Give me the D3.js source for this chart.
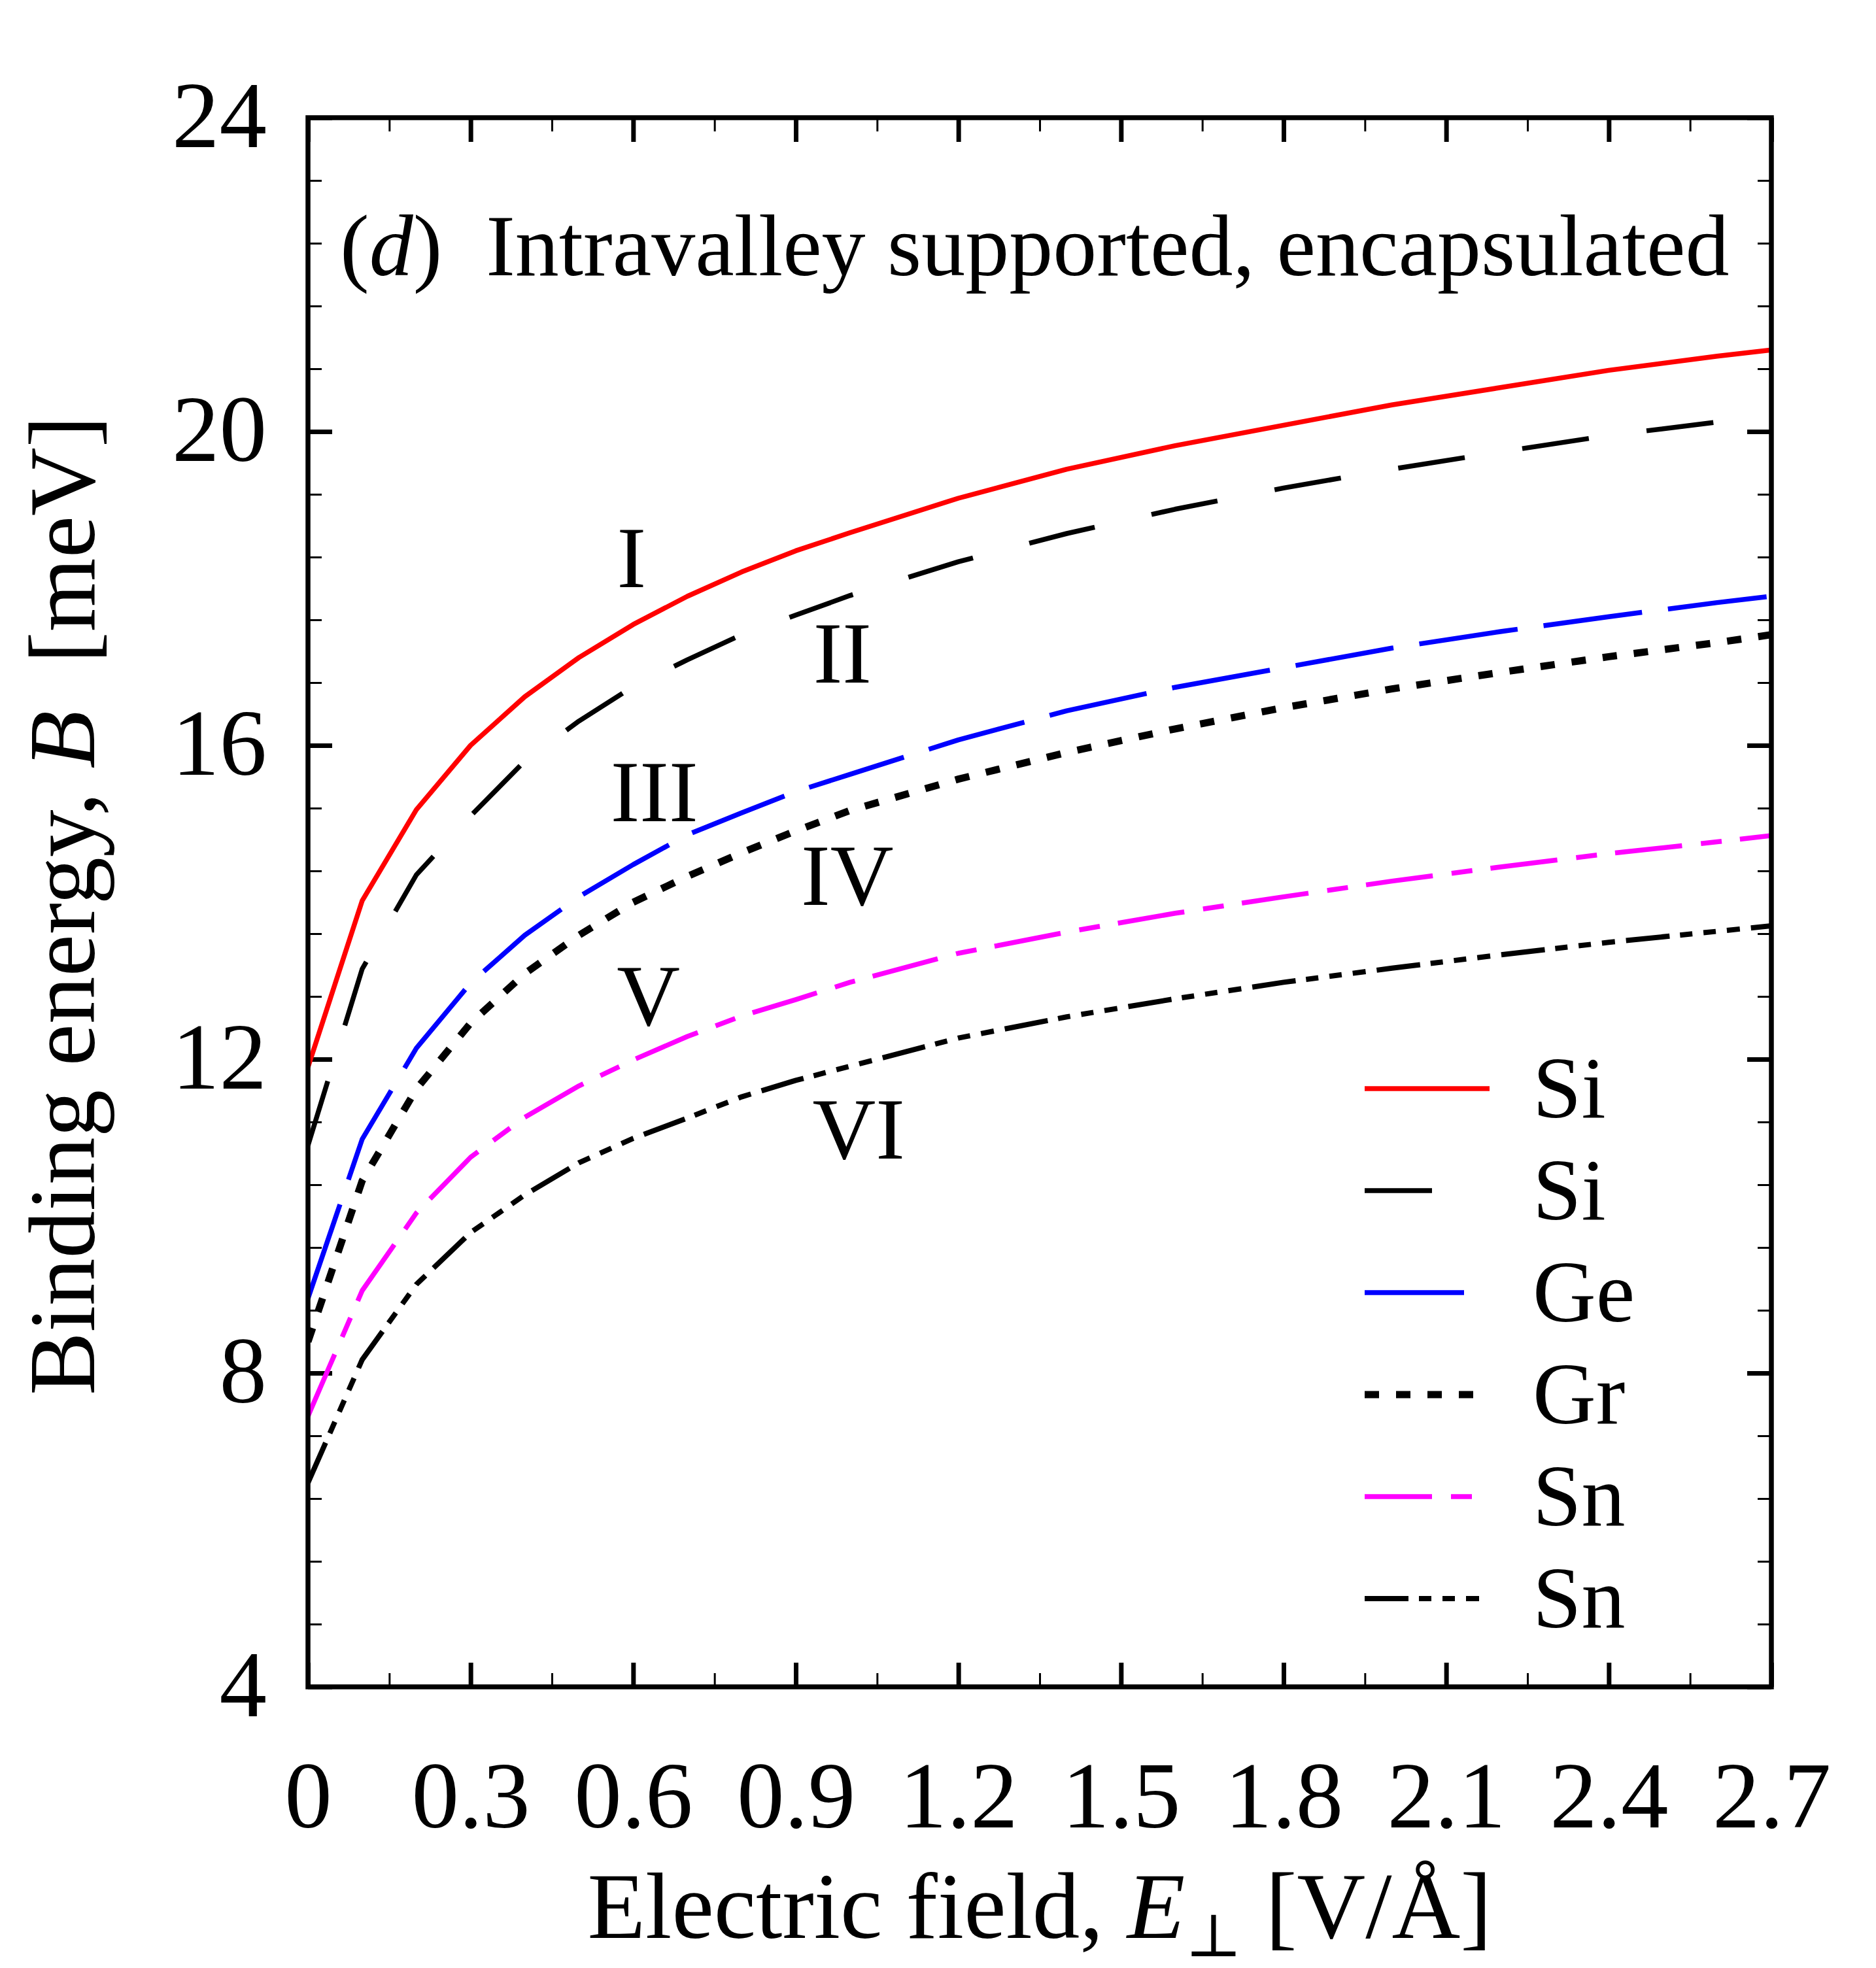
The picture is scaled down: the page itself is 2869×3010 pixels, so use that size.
<!DOCTYPE html>
<html>
<head>
<meta charset="utf-8">
<script src="https://cdn.jsdelivr.net/npm/d3@7"></script>
<style>
  html, body { margin: 0; padding: 0; background: #ffffff; }
  svg { display: block; }
  text { font-family: "Liberation Serif", "Times New Roman", "DejaVu Serif", serif; fill: #000; }
</style>
</head>
<body>
<script>
// ---------------- data ----------------
const fieldE = [0, 0.1, 0.2, 0.3, 0.4, 0.5, 0.6, 0.7, 0.8, 0.9, 1.0, 1.2, 1.4, 1.6, 1.8, 2.0, 2.2, 2.4, 2.6, 2.7];
const siSolid   = [11.9, 14.02, 15.18, 16.0, 16.62, 17.12, 17.54, 17.9, 18.21, 18.48, 18.71, 19.15, 19.52, 19.82, 20.08, 20.34, 20.56, 20.78, 20.96, 21.04];
const siDashed  = [10.9, 13.15, 14.35, 15.1, 15.8, 16.31, 16.75, 17.09, 17.41, 17.66, 17.91, 18.34, 18.70, 19.01, 19.28, 19.52, 19.74, 19.95, 20.12, 20.2];
const geDashed  = [8.95, 10.98, 12.14, 12.97, 13.58, 14.07, 14.48, 14.86, 15.14, 15.41, 15.63, 16.07, 16.44, 16.74, 16.99, 17.24, 17.45, 17.64, 17.82, 17.90];
const grDotted  = [8.4, 10.45, 11.62, 12.46, 13.09, 13.58, 14.0, 14.33, 14.63, 14.91, 15.17, 15.57, 15.91, 16.21, 16.48, 16.72, 16.93, 17.13, 17.31, 17.41];
const snDashDot = [7.45, 9.05, 10.04, 10.75, 11.26, 11.66, 11.99, 12.29, 12.55, 12.76, 12.98, 13.35, 13.62, 13.86, 14.07, 14.27, 14.45, 14.62, 14.77, 14.85];
const snDashDots= [6.6, 8.17, 9.13, 9.79, 10.27, 10.68, 10.99, 11.25, 11.52, 11.73, 11.91, 12.27, 12.54, 12.77, 12.98, 13.16, 13.33, 13.49, 13.63, 13.70];

const seriesNames  = ["Si", "Si", "Ge", "Gr", "Sn", "Sn"];
const seriesValues = [siSolid, siDashed, geDashed, grDotted, snDashDot, snDashDots];

const xMajorTicks = [0, 0.3, 0.6, 0.9, 1.2, 1.5, 1.8, 2.1, 2.4, 2.7];
const xTickLabels = ["0", "0.3", "0.6", "0.9", "1.2", "1.5", "1.8", "2.1", "2.4", "2.7"];
const xMinorTicks = [0.15, 0.45, 0.75, 1.05, 1.35, 1.65, 1.95, 2.25, 2.55];
const yMajorTicks = [4, 8, 12, 16, 20, 24];
const yTickLabels = ["4", "8", "12", "16", "20", "24"];
const yMinorTicks = [4.8, 5.6, 6.4, 7.2, 8.8, 9.6, 10.4, 11.2, 12.8, 13.6, 14.4, 15.2, 16.8, 17.6, 18.4, 19.2, 20.8, 21.6, 22.4, 23.2];

const curveLabels = ["I", "II", "III", "IV", "V", "VI"];
const curveLabelE = [0.597, 0.986, 0.639, 0.995, 0.628, 1.016];
const curveLabelB = [18.02, 16.8, 15.03, 13.97, 12.43, 10.73];

// ---------------- styles ----------------
const seriesColors = ["#ff0000", "#000000", "#0000ff", "#000000", "#ff00ff", "#000000"];
const seriesDash   = [null, "103,89", "152,40", "22,26", "103,29,32,28", "67,16,19,17,19,17,20,17"];
const seriesWidth  = [7.5, 7.5, 7.5, 11, 7.5, 8];

// ---------------- layout ----------------
const W = 2869, H = 3010;
const L = 471, R = 2709, T = 180, B = 2580;
const FONT_TICK = 145, FONT_AXIS = 145, FONT_TEXT = 134, FONT_TITLE = 134;

const svg = d3.select("body").append("svg").attr("width", W).attr("height", H);
svg.append("rect").attr("width", W).attr("height", H).attr("fill", "#fff");

const x = d3.scaleLinear().domain([0, 2.7]).range([L, R]);
const y = d3.scaleLinear().domain([4, 24]).range([B, T]);

// clip for curves
svg.append("clipPath").attr("id", "plotclip").append("rect")
  .attr("x", L).attr("y", T).attr("width", R - L).attr("height", B - T);

// ---------------- axes (ticks inward) ----------------
function styleAxis(g, w) {
  g.select(".domain").remove();
  g.selectAll(".tick line").attr("stroke", "#000").attr("stroke-width", w);
}
// bottom major with labels
const gxb = svg.append("g").attr("transform", `translate(0,${B})`)
  .call(d3.axisBottom(x).tickValues(xMajorTicks).tickSize(-37)
        .tickFormat((d, i) => xTickLabels[i]));
styleAxis(gxb, 7);
gxb.selectAll(".tick text").attr("y", 215).attr("dy", null)
  .attr("font-size", FONT_TICK).attr("font-family", "Liberation Serif, serif").attr("fill", "#000");
// bottom minor
styleAxis(svg.append("g").attr("transform", `translate(0,${B})`)
  .call(d3.axisBottom(x).tickValues(xMinorTicks).tickSize(-21).tickFormat("")), 3);
// top
styleAxis(svg.append("g").attr("transform", `translate(0,${T})`)
  .call(d3.axisTop(x).tickValues(xMajorTicks).tickSize(-37).tickFormat("")), 7);
styleAxis(svg.append("g").attr("transform", `translate(0,${T})`)
  .call(d3.axisTop(x).tickValues(xMinorTicks).tickSize(-21).tickFormat("")), 3);
// left major with labels
const gyl = svg.append("g").attr("transform", `translate(${L},0)`)
  .call(d3.axisLeft(y).tickValues(yMajorTicks).tickSize(-37)
        .tickFormat((d, i) => yTickLabels[i]));
styleAxis(gyl, 7);
gyl.selectAll(".tick text").attr("x", -63).attr("y", 44).attr("dy", null)
  .attr("font-size", FONT_TICK).attr("font-family", "Liberation Serif, serif").attr("fill", "#000");
styleAxis(svg.append("g").attr("transform", `translate(${L},0)`)
  .call(d3.axisLeft(y).tickValues(yMinorTicks).tickSize(-21).tickFormat("")), 3);
// right
styleAxis(svg.append("g").attr("transform", `translate(${R},0)`)
  .call(d3.axisRight(y).tickValues(yMajorTicks).tickSize(-37).tickFormat("")), 7);
styleAxis(svg.append("g").attr("transform", `translate(${R},0)`)
  .call(d3.axisRight(y).tickValues(yMinorTicks).tickSize(-21).tickFormat("")), 3);

// ---------------- curves ----------------
const line = d3.line().x(d => x(d[0])).y(d => y(d[1]));
const gc = svg.append("g").attr("clip-path", "url(#plotclip)");
seriesValues.forEach((vals, i) => {
  const pts = fieldE.map((e, k) => [e, vals[k]]);
  gc.append("path").datum(pts)
    .attr("d", line)
    .attr("fill", "none")
    .attr("stroke", seriesColors[i])
    .attr("stroke-width", seriesWidth[i])
    .attr("stroke-linejoin", "round")
    .attr("stroke-dasharray", seriesDash[i]);
});

// frame
svg.append("rect").attr("x", L).attr("y", T).attr("width", R - L).attr("height", B - T)
  .attr("fill", "none").attr("stroke", "#000").attr("stroke-width", 7.5);

// ---------------- curve labels ----------------
curveLabels.forEach((t, i) => {
  svg.append("text").attr("x", x(curveLabelE[i])).attr("y", y(curveLabelB[i]))
    .attr("text-anchor", "middle").attr("font-size", FONT_TEXT).text(t);
});

// ---------------- panel title ----------------
const title = svg.append("text").attr("x", 520).attr("y", 421)
  .attr("font-size", FONT_TITLE).style("white-space", "pre");
title.append("tspan").text("(");
title.append("tspan").attr("font-style", "italic").text("d");
title.append("tspan").text(")  Intravalley supported, encapsulated");

// ---------------- legend ----------------
const legX0 = 2087, legX1 = 2278, legTextX = 2344, legY0 = 1665, legDY = 156;
seriesNames.forEach((name, i) => {
  const yy = legY0 + i * legDY;
  svg.append("line").attr("x1", legX0).attr("x2", legX1).attr("y1", yy).attr("y2", yy)
    .attr("stroke", seriesColors[i]).attr("stroke-width", seriesWidth[i])
    .attr("stroke-dasharray", seriesDash[i]);
  svg.append("text").attr("x", legTextX).attr("y", yy + 44)
    .attr("font-size", FONT_TEXT).text(name);
});

// ---------------- axis titles ----------------
const xl = svg.append("text").attr("x", (L + R) / 2).attr("y", 2964)
  .attr("text-anchor", "middle").attr("font-size", FONT_AXIS).style("white-space", "pre");
xl.append("tspan").text("Electric field, ");
xl.append("tspan").attr("font-style", "italic").text("E");
xl.append("tspan").attr("font-size", 92).attr("dy", 28).text("\u22A5");
xl.append("tspan").attr("dy", -28).text(" [V/\u00C5]");

const yl = svg.append("text").attr("transform", `translate(144,${(T + B) / 2 + 5}) rotate(-90)`)
  .attr("text-anchor", "middle").attr("font-size", FONT_AXIS).style("white-space", "pre");
yl.append("tspan").text("Binding energy, ");
yl.append("tspan").attr("font-style", "italic").text("B");
yl.append("tspan").text("  [meV]");
</script>
</body>
</html>
